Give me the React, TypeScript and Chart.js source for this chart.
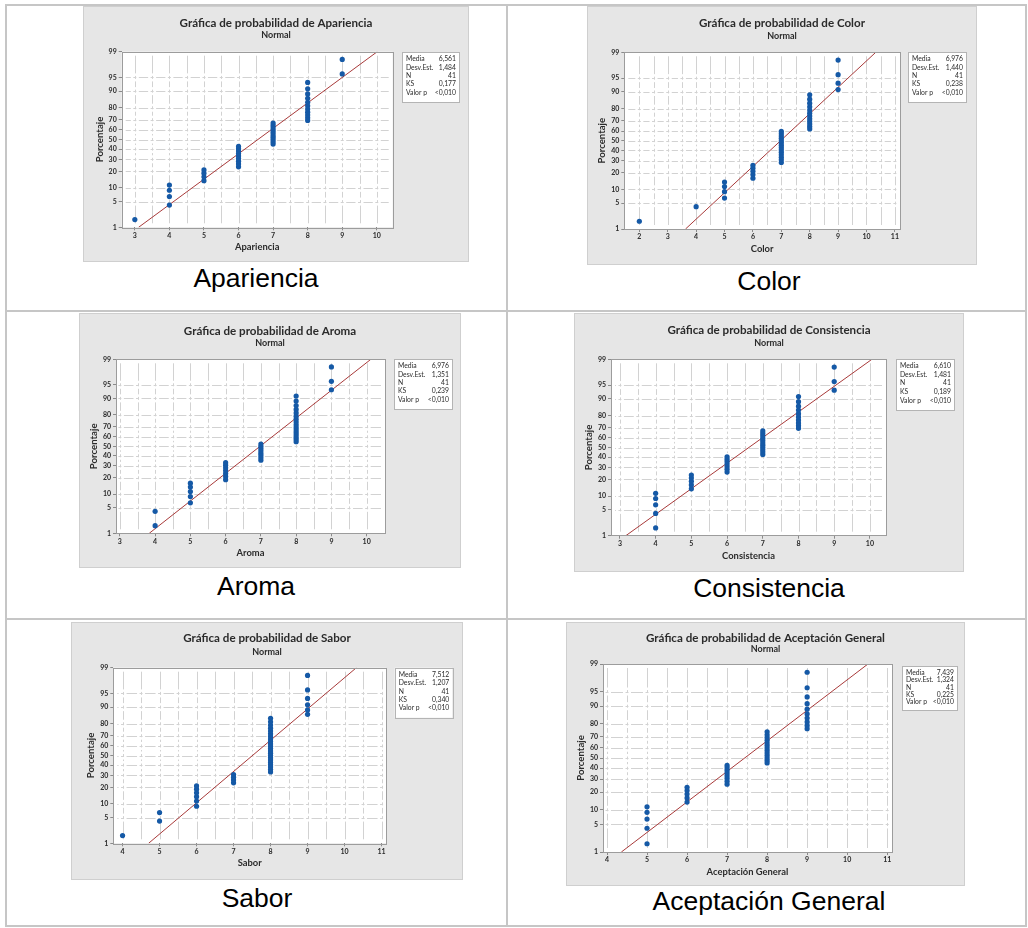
import React, { useEffect, useRef } from 'react';
import { Chart, registerables } from 'chart.js';

Chart.register(...registerables);

// ---------- DATA ----------
const ATTRIBUTES = ['Apariencia', 'Color', 'Aroma', 'Consistencia', 'Sabor', 'Aceptación General'];
const PROB_TICKS = [1, 5, 10, 20, 30, 40, 50, 60, 70, 80, 90, 95, 99];
const N_OBS = 41;

const APARIENCIA_SCORES = [3, 4, 5, 6, 7, 8, 9];
const APARIENCIA_COUNTS = [1, 4, 4, 9, 10, 11, 2];
const COLOR_SCORES = [2, 4, 5, 6, 7, 8, 9];
const COLOR_COUNTS = [1, 1, 4, 5, 14, 12, 4];
const AROMA_SCORES = [4, 5, 6, 7, 8, 9];
const AROMA_COUNTS = [2, 5, 7, 8, 16, 3];
const CONSISTENCIA_SCORES = [4, 5, 6, 7, 8, 9];
const CONSISTENCIA_COUNTS = [5, 5, 7, 11, 10, 3];
const SABOR_SCORES = [4, 5, 6, 7, 8, 9];
const SABOR_COUNTS = [1, 2, 6, 4, 22, 6];
const ACEPTACION_SCORES = [5, 6, 7, 8, 9];
const ACEPTACION_COUNTS = [5, 5, 8, 13, 10];

const MEDIA = [6.561, 6.976, 6.976, 6.61, 7.512, 7.439];
const DESV_EST = [1.484, 1.44, 1.351, 1.481, 1.207, 1.324];
const KS = [0.177, 0.238, 0.239, 0.189, 0.34, 0.225];
const VALOR_P = ['<0,010', '<0,010', '<0,010', '<0,010', '<0,010', '<0,010'];

const X_TICK_LABELS = [
  [3, 4, 5, 6, 7, 8, 9, 10],
  [2, 3, 4, 5, 6, 7, 8, 9, 10, 11],
  [3, 4, 5, 6, 7, 8, 9, 10],
  [3, 4, 5, 6, 7, 8, 9, 10],
  [4, 5, 6, 7, 8, 9, 10, 11],
  [4, 5, 6, 7, 8, 9, 10, 11],
];
const X_RANGES = [
  [2.62, 10.46],
  [1.47, 11.18],
  [2.89, 10.52],
  [2.75, 10.45],
  [3.75, 11.12],
  [3.9, 11.12],
];

const SCORES = [APARIENCIA_SCORES, COLOR_SCORES, AROMA_SCORES, CONSISTENCIA_SCORES, SABOR_SCORES, ACEPTACION_SCORES];
const COUNTS = [APARIENCIA_COUNTS, COLOR_COUNTS, AROMA_COUNTS, CONSISTENCIA_COUNTS, SABOR_COUNTS, ACEPTACION_COUNTS];

// ---------- LAYOUT ----------
type Panel = {
  left: number; top: number; w: number; h: number;
  plot: [number, number, number, number];
  legend: [number, number, number, number];
  titleY: number; subY: number;
  capX: number; capBase: number;
};
const PANELS: Panel[] = [
  { left: 83, top: 6, w: 386, h: 256, plot: [38.7, 45.7, 309.7, 221.3], legend: [319, 46, 57, 50], titleY: 17.3, subY: 29, capX: 256, capBase: 287 },
  { left: 587, top: 6, w: 390, h: 259, plot: [37.3, 46.3, 313, 223], legend: [321, 46, 58, 50], titleY: 17.3, subY: 30, capX: 769, capBase: 290 },
  { left: 79, top: 313, w: 382, h: 255, plot: [37, 46.3, 306, 220.3], legend: [315, 46, 58, 50], titleY: 18.7, subY: 30.3, capX: 256, capBase: 595 },
  { left: 574, top: 313, w: 390, h: 259, plot: [37, 46.3, 312, 222.7], legend: [322, 46, 58, 51], titleY: 17, subY: 30.3, capX: 769, capBase: 597 },
  { left: 71, top: 622, w: 392, h: 258, plot: [42.3, 45.7, 315, 221.3], legend: [323.7, 45.7, 57.6, 50], titleY: 16.3, subY: 29.7, capX: 257, capBase: 907 },
  { left: 566, top: 622, w: 399, h: 264, plot: [37, 42, 326, 230], legend: [336, 44, 55, 44], titleY: 16, subY: 27, capX: 769, capBase: 910 },
];

const PANEL_BG = '#e6e6e6';
const DOT_COLOR = '#1559a6';
const LINE_COLOR = '#a83a3a';
const GRID_COLOR = '#d2d2d2';
const TEXT_COLOR = '#2b2b2b';
const MFONT = 'Lato, "Open Sans", sans-serif';

// inverse normal CDF (Acklam)
function probit(p: number): number {
  const a = [-3.969683028665376e1, 2.209460984245205e2, -2.759285104469687e2, 1.38357751867269e2, -3.066479806614716e1, 2.506628277459239];
  const b = [-5.447609879822406e1, 1.615858368580409e2, -1.556989798598866e2, 6.680131188771972e1, -1.328068155288572e1];
  const c = [-7.784894002430293e-3, -3.223964580411365e-1, -2.400758277161838, -2.549732539343734, 4.374664141464968, 2.938163982698783];
  const d = [7.784695709041462e-3, 3.224671290700398e-1, 2.445134137142996, 3.754408661907416];
  const plow = 0.02425;
  const phigh = 1 - plow;
  if (p < plow) {
    const q = Math.sqrt(-2 * Math.log(p));
    return (((((c[0] * q + c[1]) * q + c[2]) * q + c[3]) * q + c[4]) * q + c[5]) / ((((d[0] * q + d[1]) * q + d[2]) * q + d[3]) * q + 1);
  }
  if (p <= phigh) {
    const q = p - 0.5;
    const r = q * q;
    return ((((((a[0] * r + a[1]) * r + a[2]) * r + a[3]) * r + a[4]) * r + a[5]) * q) / (((((b[0] * r + b[1]) * r + b[2]) * r + b[3]) * r + b[4]) * r + 1);
  }
  const q = Math.sqrt(-2 * Math.log(1 - p));
  return -(((((c[0] * q + c[1]) * q + c[2]) * q + c[3]) * q + c[4]) * q + c[5]) / ((((d[0] * q + d[1]) * q + d[2]) * q + d[3]) * q + 1);
}

const fmt = (v: number) => v.toFixed(3).replace('.', ',');

function ProbPlot({ idx }: { idx: number }) {
  const ref = useRef<HTMLCanvasElement>(null);
  const P = PANELS[idx];
  useEffect(() => {
    if (!ref.current) return;
    const [pl, pt, pr, pb] = P.plot;
    const zMin = probit(PROB_TICKS[0] / 100);
    const zMax = probit(PROB_TICKS[PROB_TICKS.length - 1] / 100);
    const [xmin, xmax] = X_RANGES[idx];
    const labels = X_TICK_LABELS[idx];

    // points: median-rank plotting positions for each observation
    const pts: { x: number; y: number }[] = [];
    let rank = 0;
    SCORES[idx].forEach((s, i) => {
      for (let k = 0; k < COUNTS[idx][i]; k++) {
        rank++;
        pts.push({ x: s, y: probit((rank - 0.3) / (N_OBS + 0.4)) });
      }
    });
    const mu = MEDIA[idx];
    const sd = DESV_EST[idx];
    const fit = [
      { x: mu + zMin * sd, y: zMin },
      { x: mu + zMax * sd, y: zMax },
    ];
    const xGrid: number[] = [];
    for (let v = Math.ceil(xmin * 2) / 2; v <= xmax + 1e-9; v += 0.5) xGrid.push(v);

    const deco = {
      id: 'deco',
      beforeDraw(chart: any) {
        const ctx = chart.ctx;
        const ca = chart.chartArea;
        ctx.save();
        ctx.fillStyle = PANEL_BG;
        ctx.fillRect(0, 0, chart.width, chart.height);
        ctx.strokeStyle = '#cfcfcf';
        ctx.lineWidth = 1;
        ctx.strokeRect(0.5, 0.5, chart.width - 1, chart.height - 1);
        ctx.fillStyle = '#ffffff';
        ctx.fillRect(ca.left, ca.top, ca.right - ca.left, ca.bottom - ca.top);
        ctx.restore();
      },
      beforeDatasetsDraw(chart: any) {
        // Minitab-like broken gridlines with small crosses at intersections
        const ctx = chart.ctx;
        const ca = chart.chartArea;
        const sx = chart.scales.x;
        const sy = chart.scales.y;
        const xs: number[] = sx.ticks.map((t: any) => sx.getPixelForValue(t.value));
        const ys: number[] = sy.ticks.map((t: any) => sy.getPixelForValue(t.value));
        const inner = (v: number, a: number, b: number) => v > a + 1.5 && v < b - 1.5;
        const xIn = xs.filter((v) => inner(v, ca.left, ca.right));
        const yIn = ys.filter((v) => inner(v, ca.top, ca.bottom));
        const yStops = [ca.top, ...yIn, ca.bottom].sort((a, b) => a - b);
        const xStops = [ca.left, ...xIn, ca.right].sort((a, b) => a - b);
        const G = 4;
        const C = 1.5;
        ctx.save();
        ctx.strokeStyle = GRID_COLOR;
        ctx.lineWidth = 1;
        ctx.beginPath();
        xIn.forEach((x) => {
          const px = Math.round(x) + 0.5;
          for (let i = 0; i < yStops.length - 1; i++) {
            const a = yStops[i] + G;
            const b = yStops[i + 1] - G;
            if (b > a) { ctx.moveTo(px, a); ctx.lineTo(px, b); }
          }
          yIn.forEach((y) => { ctx.moveTo(px, y - C); ctx.lineTo(px, y + C); });
        });
        yIn.forEach((y) => {
          const py = Math.round(y) + 0.5;
          for (let i = 0; i < xStops.length - 1; i++) {
            const a = xStops[i] + G;
            const b = xStops[i + 1] - G;
            if (b > a) { ctx.moveTo(a, py); ctx.lineTo(b, py); }
          }
          xIn.forEach((x) => { ctx.moveTo(x - C, py); ctx.lineTo(x + C, py); });
        });
        ctx.stroke();
        ctx.restore();
      },
      afterDraw(chart: any) {
        const ctx = chart.ctx;
        const ca = chart.chartArea;
        ctx.save();
        ctx.strokeStyle = '#9c9c9c';
        ctx.lineWidth = 1;
        ctx.strokeRect(Math.round(ca.left) + 0.5, Math.round(ca.top) + 0.5, Math.round(ca.right - ca.left), Math.round(ca.bottom - ca.top));
        ctx.fillStyle = TEXT_COLOR;
        ctx.textAlign = 'center';
        ctx.textBaseline = 'middle';
        ctx.font = `bold 11.6px ${MFONT}`;
        ctx.fillText('Gráfica de probabilidad de ' + ATTRIBUTES[idx], chart.width / 2, P.titleY);
        ctx.font = `bold 9px ${MFONT}`;
        ctx.fillText('Normal', chart.width / 2, P.subY);
        ctx.font = `bold 9.4px ${MFONT}`;
        ctx.fillText(ATTRIBUTES[idx], (ca.left + ca.right) / 2, ca.bottom + 20);
        ctx.save();
        ctx.translate(ca.left - 22, (ca.top + ca.bottom) / 2);
        ctx.rotate(-Math.PI / 2);
        ctx.font = `bold 9.6px ${MFONT}`;
        ctx.fillText('Porcentaje', 0, 0);
        ctx.restore();
        // stats box
        const [lx, ly, lw, lh] = P.legend;
        ctx.fillStyle = '#ffffff';
        ctx.fillRect(lx, ly, lw, lh);
        ctx.strokeStyle = '#b4b4b4';
        ctx.strokeRect(Math.round(lx) + 0.5, Math.round(ly) + 0.5, Math.round(lw), Math.round(lh));
        const rows: [string, string][] = [
          ['Media', fmt(MEDIA[idx])],
          ['Desv.Est.', fmt(DESV_EST[idx])],
          ['N', String(N_OBS)],
          ['KS', fmt(KS[idx])],
          ['Valor p', VALOR_P[idx]],
        ];
        ctx.font = `6.8px ${MFONT}`;
        ctx.fillStyle = TEXT_COLOR;
        const step = (lh - 8) / 5;
        rows.forEach((r, i) => {
          const y = ly + 7 + i * step;
          ctx.textAlign = 'left';
          ctx.fillText(r[0], lx + 4, y);
          ctx.textAlign = 'right';
          ctx.fillText(r[1], lx + lw - 3, y);
        });
        ctx.restore();
      },
    };

    const chart = new Chart(ref.current, {
      type: 'scatter',
      data: {
        datasets: [
          {
            type: 'line',
            data: fit,
            borderColor: LINE_COLOR,
            borderWidth: 1,
            pointRadius: 0,
            fill: false,
            order: 2,
          } as any,
          {
            type: 'scatter',
            data: pts,
            backgroundColor: DOT_COLOR,
            borderWidth: 0,
            pointRadius: 2.6,
            order: 1,
          } as any,
        ],
      },
      options: {
        responsive: false,
        animation: false,
        devicePixelRatio: 1,
        layout: { padding: { left: 0, top: pt, right: P.w - pr, bottom: 0 } },
        plugins: { legend: { display: false }, tooltip: { enabled: false }, title: { display: false } },
        scales: {
          x: {
            type: 'linear',
            min: xmin,
            max: xmax,
            afterFit: (s: any) => { s.height = P.h - pb; },
            afterBuildTicks: (s: any) => { s.ticks = xGrid.map((v) => ({ value: v })); },
            ticks: {
              autoSkip: false,
              maxRotation: 0,
              padding: 1,
              color: TEXT_COLOR,
              font: { family: MFONT, size: 7, weight: 'bold' },
              callback: (v: any) => (labels.includes(Number(v)) ? String(v) : ''),
            },
            grid: {
              drawOnChartArea: false,
              tickLength: 3,
              tickColor: (c: any) => (c.tick && labels.includes(c.tick.value) ? '#8a8a8a' : 'rgba(0,0,0,0)'),
            },
            border: { display: false },
          },
          y: {
            type: 'linear',
            min: zMin,
            max: zMax,
            afterFit: (s: any) => { s.width = pl; },
            afterBuildTicks: (s: any) => { s.ticks = PROB_TICKS.map((p) => ({ value: probit(p / 100) })); },
            ticks: {
              autoSkip: false,
              padding: 2,
              color: TEXT_COLOR,
              font: { family: MFONT, size: 7, weight: 'bold' },
              callback: (_v: any, i: number) => String(PROB_TICKS[i]),
            },
            grid: { drawOnChartArea: false, tickLength: 3, tickColor: '#8a8a8a' },
            border: { display: false },
          },
        },
      } as any,
      plugins: [deco],
    });
    return () => chart.destroy();
  }, [idx]);

  return (
    <canvas
      ref={ref}
      width={P.w}
      height={P.h}
      style={{ position: 'absolute', left: P.left, top: P.top, width: P.w, height: P.h, display: 'block' }}
    />
  );
}

const LINE = '#c6c6c6';

export default function App() {
  return (
    <div style={{ position: 'absolute', left: 0, top: 0, width: 1028, height: 928, background: '#ffffff', overflow: 'hidden' }}>
      {/* table borders */}
      <div style={{ position: 'absolute', left: 5, top: 4, width: 1022, height: 923, border: `2px solid ${LINE}`, boxSizing: 'border-box' }} />
      <div style={{ position: 'absolute', left: 506, top: 4, width: 2, height: 923, background: LINE }} />
      <div style={{ position: 'absolute', left: 5, top: 310, width: 1022, height: 2, background: LINE }} />
      <div style={{ position: 'absolute', left: 5, top: 618, width: 1022, height: 2, background: LINE }} />
      {PANELS.map((_, i) => (
        <ProbPlot key={i} idx={i} />
      ))}
      {PANELS.map((p, i) => (
        <div
          key={'c' + i}
          style={{
            position: 'absolute',
            left: p.capX - 200,
            width: 400,
            top: p.capBase - 24.2,
            height: 30,
            lineHeight: '30px',
            textAlign: 'center',
            fontFamily: '"Liberation Sans", Arial, sans-serif',
            fontSize: 26.5,
            color: '#000',
            whiteSpace: 'nowrap',
          }}
        >
          {ATTRIBUTES[i]}
        </div>
      ))}
    </div>
  );
}
